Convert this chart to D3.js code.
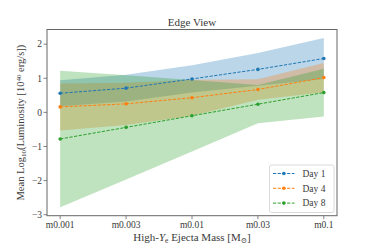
<!DOCTYPE html>
<html>
<head>
<meta charset="utf-8">
<script src="https://cdn.jsdelivr.net/npm/d3@7"></script>
<style>
  html, body { margin: 0; padding: 0; background: #fff; }
  svg { display: block; }
</style>
</head>
<body>
<div id="chart"></div>
<script>
const masses = ['m0.001', 'm0.003', 'm0.01', 'm0.03', 'm0.1'];
const days = ['Day 1', 'Day 4', 'Day 8'];
const colors = ['#1f77b4', '#ff7f0e', '#2ca02c'];

// mean log10 luminosity per day
const meanDay1 = [0.56, 0.71, 0.98, 1.26, 1.58];
const meanDay4 = [0.16, 0.25, 0.43, 0.67, 1.02];
const meanDay8 = [-0.78, -0.44, -0.10, 0.24, 0.58];

// spread (band half-width)
const stdDay1 = [0.38, 0.39, 0.40, 0.48, 0.60];
const stdDay4 = [0.69, 0.62, 0.53, 0.30, 0.43];
const stdDay8 = [2.00, 1.53, 1.05, 0.56, 0.70];

const yTicks = [-3, -2, -1, 0, 1, 2];

const series = [
  { name: days[0], mean: meanDay1, std: stdDay1, color: colors[0] },
  { name: days[1], mean: meanDay4, std: stdDay4, color: colors[1] },
  { name: days[2], mean: meanDay8, std: stdDay8, color: colors[2] }
];

const W = 374, H = 249;
const mLeft = 47, mRight = 337, mTop = 29.5, mBottom = 215.7;
const SERIF = '"Liberation Serif", "DejaVu Serif", serif';
const TXT = '#3a3a3a';
const FRAME = '#666';

const x = d3.scaleLinear().domain([-0.2, masses.length - 1 + 0.2]).range([mLeft, mRight]);
const y = d3.scaleLinear().domain([-3.03, 2.43]).range([mBottom, mTop]);

const svg = d3.select('#chart').append('svg')
  .attr('width', W).attr('height', H)
  .attr('viewBox', `0 0 ${W} ${H}`);

// Bands (mean ± spread)
const area = d3.area()
  .x((d, i) => x(i))
  .y0(d => y(d[0] - d[1]))
  .y1(d => y(d[0] + d[1]));

series.forEach(s => {
  svg.append('path')
    .datum(s.mean.map((m, i) => [m, s.std[i]]))
    .attr('d', area)
    .attr('fill', s.color)
    .attr('fill-opacity', 0.3);
});

// Lines + markers
const line = d3.line().x((d, i) => x(i)).y(d => y(d));
series.forEach(s => {
  svg.append('path')
    .datum(s.mean)
    .attr('d', line)
    .attr('fill', 'none')
    .attr('stroke', s.color)
    .attr('stroke-width', 1)
    .attr('stroke-dasharray', '3.2,1.5');
  svg.selectAll(null)
    .data(s.mean)
    .join('circle')
    .attr('cx', (d, i) => x(i))
    .attr('cy', d => y(d))
    .attr('r', 1.8)
    .attr('fill', s.color);
});

// Frame
svg.append('rect')
  .attr('x', mLeft).attr('y', mTop)
  .attr('width', mRight - mLeft).attr('height', mBottom - mTop)
  .attr('fill', 'none')
  .attr('stroke', FRAME)
  .attr('stroke-width', 1);

// X ticks
masses.forEach((m, i) => {
  svg.append('line')
    .attr('x1', x(i)).attr('x2', x(i))
    .attr('y1', mBottom).attr('y2', mBottom + 3.5)
    .attr('stroke', FRAME).attr('stroke-width', 0.8);
  svg.append('text')
    .attr('x', x(i)).attr('y', mBottom + 12.5)
    .attr('text-anchor', 'middle')
    .attr('font-family', SERIF).attr('font-size', 9.5)
    .attr('fill', TXT)
    .text(m);
});

// Y ticks
yTicks.forEach(t => {
  svg.append('line')
    .attr('x1', mLeft - 3.5).attr('x2', mLeft)
    .attr('y1', y(t)).attr('y2', y(t))
    .attr('stroke', FRAME).attr('stroke-width', 0.8);
  svg.append('text')
    .attr('x', mLeft - 5).attr('y', y(t))
    .attr('dy', '0.35em')
    .attr('text-anchor', 'end')
    .attr('font-family', SERIF).attr('font-size', 9.5)
    .attr('fill', TXT)
    .text(t < 0 ? '\u2212' + Math.abs(t) : t);
});

// Title
svg.append('text')
  .attr('x', (mLeft + mRight) / 2).attr('y', 26)
  .attr('text-anchor', 'middle')
  .attr('font-family', SERIF).attr('font-size', 11)
  .attr('fill', TXT)
  .text('Edge View');

// X label
const xl = svg.append('text')
  .attr('x', (mLeft + mRight) / 2).attr('y', 240.5)
  .attr('text-anchor', 'middle')
  .attr('font-family', SERIF).attr('font-size', 11)
  .attr('fill', TXT);
xl.append('tspan').text('High-');
xl.append('tspan').attr('font-style', 'italic').text('Y');
xl.append('tspan').attr('font-size', 7.5).attr('baseline-shift', '-25%').text('e');
xl.append('tspan').text(' Ejecta Mass [M');
xl.append('tspan').attr('font-size', 7.5).attr('baseline-shift', '-25%').text('\u2299');
xl.append('tspan').text(']');

// Y label
const yl = svg.append('text')
  .attr('transform', `translate(23.5,${(mTop + mBottom) / 2}) rotate(-90)`)
  .attr('text-anchor', 'middle')
  .attr('font-family', SERIF).attr('font-size', 10.5)
  .attr('fill', TXT);
yl.append('tspan').text('Mean Log');
yl.append('tspan').attr('font-size', 7).attr('baseline-shift', '-25%').text('10');
yl.append('tspan').text('(Luminosity [10');
yl.append('tspan').attr('font-size', 7).attr('baseline-shift', '40%').text('40');
yl.append('tspan').text(' erg/s])');

// Legend
const lg = svg.append('g');
lg.append('rect')
  .attr('x', 269.5).attr('y', 165)
  .attr('width', 64.5).attr('height', 47.5)
  .attr('rx', 2).attr('ry', 2)
  .attr('fill', '#fff').attr('fill-opacity', 0.8)
  .attr('stroke', '#d0d0d0').attr('stroke-width', 0.8);

series.forEach((s, i) => {
  const ly = 173.5 + i * 14.8;
  lg.append('line')
    .attr('x1', 273).attr('x2', 294.5)
    .attr('y1', ly).attr('y2', ly)
    .attr('stroke', s.color).attr('stroke-width', 1)
    .attr('stroke-dasharray', '3.2,1.5');
  lg.append('circle')
    .attr('cx', 283.8).attr('cy', ly).attr('r', 1.8)
    .attr('fill', s.color);
  lg.append('text')
    .attr('x', 302.5).attr('y', ly)
    .attr('dy', '0.35em')
    .attr('font-family', SERIF).attr('font-size', 9.5)
    .attr('fill', TXT)
    .text(s.name);
});
</script>
</body>
</html>
